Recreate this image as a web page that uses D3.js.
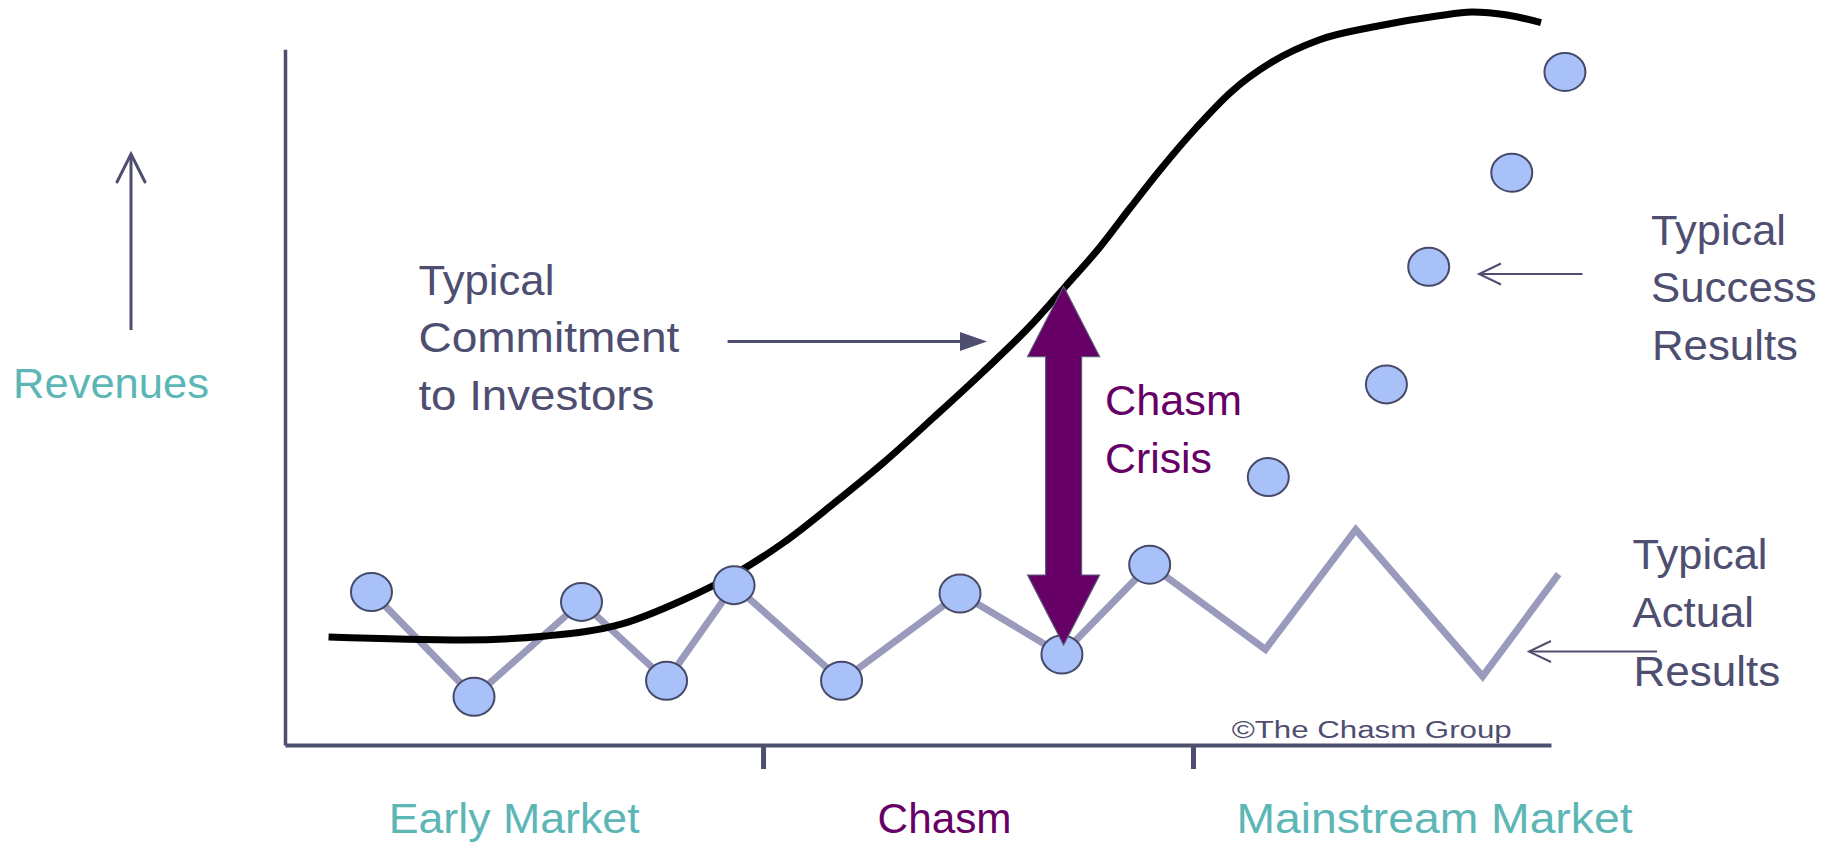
<!DOCTYPE html>
<html>
<head>
<meta charset="utf-8">
<script src="https://cdn.jsdelivr.net/npm/d3@7"></script>
<style>
  html, body { margin: 0; padding: 0; background: #ffffff; }
  svg { display: block; }
  text { font-family: "Liberation Sans", Arial, sans-serif; }
</style>
</head>
<body>
<svg id="chart" width="1841" height="843"></svg>
<script>
// ---------- DATA (time 0..100, revenue 0..100) ----------
const categories = ["Early Market", "Chasm", "Mainstream Market"];
const categoryCenters = [18.1, 52.1, 90.8];
const categoryBoundaries = [37.76, 71.72];

// Typical commitment to investors (S-curve)
const commitT = [3.44, 14.11, 20.59, 26.62, 31.44, 35.39, 39.34, 43.29, 47.24, 51.19, 55.13, 59.08, 61.61, 64.38, 66.75, 69.12, 71.96, 74.72, 77.96, 81.67, 86.33, 90.99, 93.76, 96.53, 99.21];
const commitR = [14.79, 14.38, 14.93, 16.58, 19.86, 23.29, 27.67, 33.01, 38.63, 44.79, 51.1, 57.81, 62.74, 68.22, 73.56, 78.77, 84.52, 89.45, 93.56, 96.58, 98.49, 99.86, 100.41, 100.0, 98.96];

// Typical actual results (zig-zag), dots drawn on first 9
const actualT = [6.83, 14.93, 23.42, 30.14, 35.47, 43.96, 53.32, 61.37, 68.30, 77.44, 84.58, 94.60, 100.6];
const actualR = [20.96, 6.6, 19.6, 8.8, 21.9, 8.8, 20.75, 12.4, 24.7, 13.1, 29.5, 9.4, 23.4];
const actualDotCount = 9;

// Typical success results (dots)
const successT = [77.67, 87.0, 90.34, 96.9, 101.1];
const successR = [36.7, 49.4, 65.5, 78.4, 92.2];

// Chasm crisis gap
const chasmT = 61.5;
const chasmTop = 62.8;
const chasmBottom = 13.7;
const yAxisTop = 95.3;

// ---------- STYLE ----------
const C = {
  dark: "#4e4e70",
  teal: "#5cb6b6",
  purple: "#660066",
  dotFill: "#a8c1f8",
  dotStroke: "#474969",
  zig: "#9a9abd",
  curve: "#000000"
};

const svg = d3.select("#chart");
const x = d3.scaleLinear().domain([0, 100]).range([285, 1551]);
const y = d3.scaleLinear().domain([0, 100]).range([745, 15]);

// ---------- AXES ----------
const xAxis = d3.axisBottom(x).tickValues(categoryBoundaries).tickSize(24).tickSizeOuter(0).tickFormat("");
const gx = svg.append("g").attr("transform", `translate(0,${y(0)})`).call(xAxis);
gx.select(".domain").attr("stroke", C.dark).attr("stroke-width", 4);
gx.selectAll(".tick line").attr("stroke", C.dark).attr("stroke-width", 5);

const yAxisScale = d3.scaleLinear().domain([0, yAxisTop]).range([y(0), y(yAxisTop)]);
const yAxis = d3.axisLeft(yAxisScale).tickValues([]).tickSizeOuter(0);
const gy = svg.append("g").attr("transform", `translate(${x(0)},0)`).call(yAxis);
gy.select(".domain").attr("stroke", C.dark).attr("stroke-width", 3.5);

// ---------- ZIG-ZAG ACTUAL RESULTS ----------
const actual = actualT.map((t, i) => ({ t, r: actualR[i] }));
svg.append("path")
  .datum(actual)
  .attr("fill", "none")
  .attr("stroke", C.zig)
  .attr("stroke-width", 7)
  .attr("stroke-linejoin", "miter")
  .attr("d", d3.line().x(d => x(d.t)).y(d => y(d.r)));

// ---------- COMMITMENT CURVE ----------
const commit = commitT.map((t, i) => ({ t, r: commitR[i] }));
svg.append("path")
  .datum(commit)
  .attr("fill", "none")
  .attr("stroke", C.curve)
  .attr("stroke-width", 7)
  .attr("d", d3.line().curve(d3.curveMonotoneX).x(d => x(d.t)).y(d => y(d.r)));

// ---------- DOTS ----------
const dots = actual.slice(0, actualDotCount).concat(successT.map((t, i) => ({ t, r: successR[i] })));
svg.append("g").selectAll("ellipse")
  .data(dots)
  .join("ellipse")
  .attr("cx", d => x(d.t))
  .attr("cy", d => y(d.r))
  .attr("rx", 20.5)
  .attr("ry", 19)
  .attr("fill", C.dotFill)
  .attr("stroke", C.dotStroke)
  .attr("stroke-width", 2);

// ---------- CHASM CRISIS DOUBLE ARROW ----------
(function () {
  const cx = x(chasmT), top = y(chasmTop), bot = y(chasmBottom);
  const headL = 70, headW = 36, shaftW = 18;
  const pts = [
    [cx, top], [cx + headW, top + headL], [cx + shaftW, top + headL],
    [cx + shaftW, bot - headL], [cx + headW, bot - headL], [cx, bot],
    [cx - headW, bot - headL], [cx - shaftW, bot - headL], [cx - shaftW, top + headL],
    [cx - headW, top + headL]
  ];
  svg.append("polygon")
    .attr("points", pts.map(p => p.join(",")).join(" "))
    .attr("fill", C.purple)
    .attr("stroke", "#5a5a7a")
    .attr("stroke-width", 1.2)
    .attr("stroke-linejoin", "miter");
})();

// ---------- ANNOTATION ARROWS ----------
// Revenues up arrow
svg.append("line").attr("x1", 131).attr("y1", 330).attr("x2", 131).attr("y2", 154)
  .attr("stroke", C.dark).attr("stroke-width", 3);
svg.append("polyline").attr("points", "117,182 131,154 145,182")
  .attr("fill", "none").attr("stroke", C.dark).attr("stroke-width", 3).attr("stroke-linecap", "round");

// Commitment arrow
svg.append("line").attr("x1", 727.6).attr("y1", 341.5).attr("x2", 962).attr("y2", 341.5)
  .attr("stroke", C.dark).attr("stroke-width", 3);
svg.append("polygon").attr("points", "960,332 987,341.5 960,351").attr("fill", C.dark);

// Success arrow
svg.append("line").attr("x1", 1582.5).attr("y1", 274).attr("x2", 1479).attr("y2", 274)
  .attr("stroke", C.dark).attr("stroke-width", 2);
svg.append("polyline").attr("points", "1501,263.5 1479,274 1501,284.5")
  .attr("fill", "none").attr("stroke", C.dark).attr("stroke-width", 2);

// Actual arrow
svg.append("line").attr("x1", 1657).attr("y1", 651.6).attr("x2", 1529).attr("y2", 651.6)
  .attr("stroke", C.dark).attr("stroke-width", 2);
svg.append("polyline").attr("points", "1551,641 1529,651.6 1551,662")
  .attr("fill", "none").attr("stroke", C.dark).attr("stroke-width", 2);

// ---------- TEXT ----------
function label(str, xPos, base, width, color, size) {
  svg.append("text")
    .attr("x", xPos).attr("y", base)
    .attr("fill", color)
    .attr("font-size", size || 43)
    .attr("textLength", width)
    .attr("lengthAdjust", "spacingAndGlyphs")
    .text(str);
}
label("Revenues", 13, 398, 196, C.teal);

label("Typical", 418.4, 294.6, 136, C.dark);
label("Commitment", 418.4, 352, 261, C.dark);
label("to Investors", 418.4, 409.7, 236, C.dark);

label("Chasm", 1105, 415, 137, C.purple);
label("Crisis", 1105, 473, 107, C.purple);

label("Typical", 1651, 244.6, 135, C.dark);
label("Success", 1651, 302, 165.6, C.dark);
label("Results", 1652, 360, 146, C.dark);

label("Typical", 1632.5, 569, 135, C.dark);
label("Actual", 1632.5, 627.4, 121.6, C.dark);
label("Results", 1633.5, 685.5, 146.8, C.dark);

label("\u00A9The Chasm Group", 1231.7, 737.5, 280, C.dark, 23);

// category labels under x axis
const catWidths = [251, 134, 396];
const catColors = [C.teal, C.purple, C.teal];
categories.forEach((c, i) => {
  label(c, x(categoryCenters[i]) - catWidths[i] / 2, 833, catWidths[i], catColors[i]);
});
</script>
</body>
</html>
